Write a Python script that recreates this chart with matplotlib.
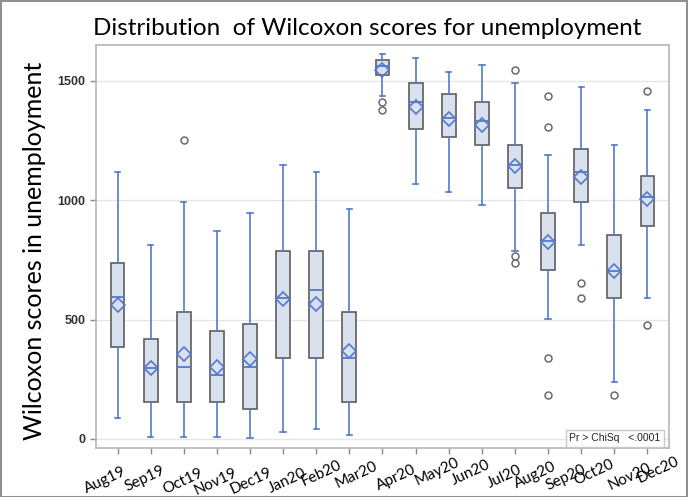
import matplotlib
matplotlib.use("Agg")
import matplotlib.pyplot as plt
from matplotlib.patches import Rectangle
from matplotlib.transforms import ScaledTranslation

months = ["Aug19", "Sep19", "Oct19", "Nov19", "Dec19", "Jan20", "Feb20", "Mar20",
          "Apr20", "May20", "Jun20", "Jul20", "Aug20", "Sep20", "Oct20", "Nov20", "Dec20"]
whis_lo = [88, 6, 6, 6, 2, 29, 40, 17, 1438, 1066, 1035, 981, 788, 504, 812, 239, 592]
q1 = [384, 156, 156, 156, 124, 338, 338, 155, 1524, 1298, 1263, 1229, 1052, 709, 993, 592, 890]
medians = [593, 296, 303, 269, 303, 589, 625, 338, 1561, 1412, 1345, 1332, 1147, 827, 1119, 705, 1014]
q3 = [738, 419, 530, 452, 480, 788, 788, 530, 1586, 1492, 1444, 1411, 1229, 945, 1215, 852, 1102]
whis_hi = [1118, 811, 993, 871, 946, 1147, 1118, 963, 1614, 1596, 1537, 1568, 1491, 1191, 1476, 1230, 1378]
means = [561, 296, 354, 300, 333, 586, 565, 367, 1547, 1391, 1338, 1316, 1145, 826, 1098, 704, 1003]
outliers = [[], [], [1252], [], [], [], [], [],
            [1410, 1376], [], [], [], [1544, 766, 738], [1438, 1307, 339, 184],
            [651, 592], [184], [1456, 478]]
y_ticks = [0, 500, 1000, 1500]

# hand-placed label nudges in the original (pixels right / down) -- styling only
label_dx = [5, 11, 15, 17, 18, 20, 22, 25, 30, 40, 38, 36, 37, 34, 29, 33, 28]
label_dy = [4, 3, 6, 5, 5, 5, -3, -2, 2, -5, -3, 2, -1, 2, -3, 0, -6]

BLUE = "#5479cc"
stats = []
for i, m in enumerate(months):
    stats.append(dict(label=m, whislo=whis_lo[i], q1=q1[i], med=medians[i], q3=q3[i],
                      whishi=whis_hi[i], mean=means[i], fliers=outliers[i]))

fig = plt.figure(figsize=(6.88, 4.97), dpi=100)
ax = fig.add_axes([0.1395, 0.0986, 0.8329, 0.8114])

ax.bxp(stats, positions=range(len(months)), widths=0.42, capwidths=0.16,
       patch_artist=True, showmeans=True,
       boxprops=dict(facecolor="#d9e1ee", edgecolor="#5e5e5e", linewidth=1.2),
       whiskerprops=dict(color=BLUE, linewidth=1.2),
       capprops=dict(color=BLUE, linewidth=1.2),
       medianprops=dict(color=BLUE, linewidth=1.3),
       meanprops=dict(marker="D", markerfacecolor="none", markeredgecolor=BLUE,
                      markersize=7, markeredgewidth=1.2),
       flierprops=dict(marker="o", markerfacecolor="none", markeredgecolor="#6a6a6a",
                       markersize=5, markeredgewidth=1.1))

ax.set_xlim(-0.65, len(months) - 1 + 0.65)
ax.set_ylim(-38, 1651)
ax.tick_params(axis="both", length=4, color="#8a8a8a", width=1)
ax.tick_params(axis="x", pad=5)
ax.set_yticks(y_ticks)
ax.set_yticklabels([str(t) for t in y_ticks], fontfamily="Liberation Sans",
                   fontsize=9, fontweight="bold", color="#333333")
ax.set_xticks(range(len(months)))
ax.set_xticklabels(months, rotation=25, ha="right", rotation_mode="anchor",
                   fontfamily="Lato", fontsize=11)
for lab, dx, dy in zip(ax.get_xticklabels(), label_dx, label_dy):
    lab.set_transform(lab.get_transform() + ScaledTranslation(dx / 100, -dy / 100, fig.dpi_scale_trans))
ax.grid(axis="y", color="#e6e6e6", linewidth=1)
ax.set_axisbelow(True)
for s in ax.spines.values():
    s.set_color("#b3b7bf")
    s.set_linewidth(1.2)

ax.set_ylabel("Wilcoxon scores in unemployment", fontfamily="Lato", fontsize=18)
ax.yaxis.set_label_coords(-0.088, 0.49)
fig.text(0.534, 0.942, "Distribution  of Wilcoxon scores for unemployment", ha="center",
         va="center", fontfamily="Lato", fontsize=17.5)

ax.text(0.985, 0.012, "Pr > ChiSq   <.0001", transform=ax.transAxes, ha="right", va="bottom",
        fontfamily="Liberation Sans", fontsize=7.5, color="#222222",
        bbox=dict(boxstyle="square,pad=0.35", facecolor="white", edgecolor="#c8c8c8", linewidth=1))

fig.patches.append(Rectangle((0.001, 0.001), 0.998, 0.997, transform=fig.transFigure,
                             fill=False, edgecolor="#8f8f8f", linewidth=1.5))

fig.savefig("out.png", dpi=100)
